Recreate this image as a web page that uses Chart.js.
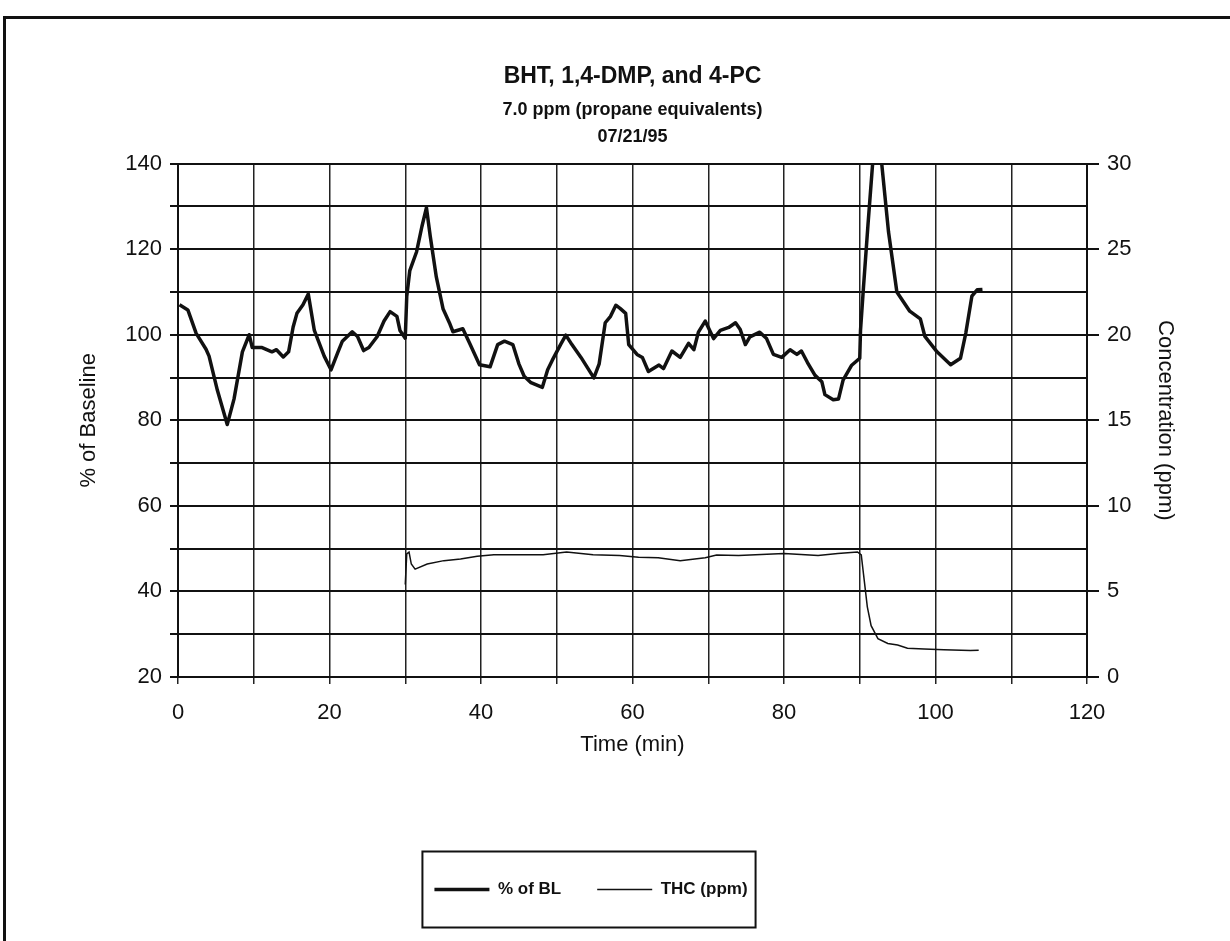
<!DOCTYPE html>
<html>
<head>
<meta charset="utf-8">
<script src="https://cdn.jsdelivr.net/npm/chart.js@4.4.0/dist/chart.umd.min.js"></script>
<style>
  body { margin: 0; background: #fff; }
  #wrap { position: relative; width: 1230px; height: 941px; overflow: hidden; }
  #frame { position: absolute; left: 3px; top: 16px; width: 1240px; height: 940px;
           border-left: 3px solid #111; border-top: 3px solid #111; }
  canvas { position: absolute; left: 0; top: 0; }
</style>
</head>
<body>
<div id="wrap">
  <div id="frame"></div>
  <canvas id="chart" width="1230" height="941"></canvas>
</div>
<script>
// % of baseline (left axis)
const blTime = [0.2, 1.3, 2.4, 3.7, 4.1, 5.2, 6.5, 7.4, 8.5, 9.4, 9.8, 11.1, 12.4, 13, 13.9, 14.6,
  15.2, 15.7, 16.5, 17.2, 18, 19.3, 20.2, 21.1, 21.7, 23, 23.7, 24.5, 25.2, 26.3, 27.2, 28, 28.9,
  29.3, 30, 30.2, 30.6, 31.5, 32.2, 32.8, 33.3, 34.1, 35, 35.9, 36.3, 37.6, 38.5, 39.8, 41.2, 42.2,
  43.1, 44.2, 45, 45.7, 46.6, 48.1, 48.8, 49.4, 50.5, 51.2, 52, 53.2, 54.9, 55.6, 56.4, 57.1, 57.8,
  58.4, 59.1, 59.5, 60.6, 61.3, 62.1, 63.5, 64.1, 65.2, 66.3, 67.4, 68.1, 68.7, 69.6, 70.7, 71.6,
  72.7, 73.6, 74.2, 74.9, 75.5, 76.8, 77.7, 78.6, 79.7, 80.8, 81.7, 82.3, 83.1, 84.1, 85, 85.4,
  86.5, 87.2, 87.8, 88.9, 90, 90.1, 90.5, 91.1, 91.7, 92.3, 92.9, 93.8, 94.9, 96.6, 98, 98.6,
  100.2, 102, 103.3, 104, 104.8, 105.5, 106.2];
const blValue = [107, 105.8, 100.3, 96.6, 95, 87, 79, 85, 96, 100, 97, 97, 96, 96.5, 94.8, 96,
  101.8, 105, 107, 109.5, 101, 95, 91.8, 95.9, 98.5, 100.7, 99.6, 96.3, 97, 99.6, 103.2, 105.4, 104.3,
  101, 99.2, 109, 115, 119.4, 125.3, 129.7, 123, 113.5, 106, 102.5, 100.7, 101.4, 98, 93, 92.5, 97.7,
  98.5, 97.7, 93.2, 90.3, 88.8, 87.7, 91.8, 94, 97.7, 99.9, 97.7, 94.7, 89.9, 93.2, 102.8, 104.3, 106.9,
  106.1, 105, 97.7, 95.4, 94.7, 91.4, 92.9, 92.1, 96.2, 94.7, 98, 96.5, 100.6, 103.2, 99.1, 101,
  101.7, 102.8, 101.3, 97.7, 99.5, 100.6, 99.1, 95.4, 94.7, 96.5, 95.4, 96.2, 93.5, 90.5, 89, 86,
  84.8, 85, 89.4, 92.8, 94.5, 101, 111.3, 126, 140, 146, 140, 124, 110, 105.5, 103.7, 99.6,
  96, 93, 94.5, 100.4, 109, 110.5, 110.6];

// THC in ppm (right axis)
const thcTime = [30.0, 30.2, 30.5, 30.8, 31.3, 32.9, 35.1, 37.3, 39.5, 41.7, 43.9, 48.2, 51.3, 54.8,
  58.3, 60.8, 63.4, 66.3, 69.6, 71.1, 74, 80, 84.5, 87.1, 89.7, 90.2, 90.5, 91, 91.5, 92.4, 93.7,
  95, 96.3, 98.5, 101.1, 104.6, 105.7];
const thcValue = [5.4, 7.2, 7.3, 6.6, 6.3, 6.6, 6.8, 6.9, 7.05, 7.15, 7.15, 7.15, 7.3, 7.15,
  7.1, 7.0, 6.97, 6.8, 6.97, 7.13, 7.1, 7.22, 7.1, 7.22, 7.31, 7.13, 6.0, 4.1, 3.0, 2.24, 1.96,
  1.87, 1.68, 1.64, 1.59, 1.55, 1.56];

const ink = '#111';
Chart.defaults.font.family = '"Liberation Sans", Arial, sans-serif';
Chart.defaults.color = ink;

// box around the legend, like the Excel one
const legendBorder = {
  id: 'legendBorder',
  afterDraw(chart) {
    const hb = chart.legend && chart.legend.legendHitBoxes;
    if (!hb || !hb.length) return;
    const left = Math.min(...hb.map(b => b.left)) - 12;
    const right = Math.max(...hb.map(b => b.left + b.width)) + 8;
    const mid = hb[0].top + hb[0].height / 2;
    const ctx = chart.ctx;
    ctx.save();
    ctx.strokeStyle = ink;
    ctx.lineWidth = 2;
    ctx.strokeRect(left, mid - 38, right - left, 76);
    ctx.restore();
  }
};

function points(xs, ys) {
  return xs.map((t, i) => ({ x: t, y: ys[i] }));
}

new Chart(document.getElementById('chart'), {
  type: 'line',
  data: {
    datasets: [{
      label: '% of BL',
      data: points(blTime, blValue),
      yAxisID: 'y',
      borderColor: ink,
      backgroundColor: ink,
      borderWidth: 3.5,
      pointRadius: 0,
      borderJoinStyle: 'round'
    }, {
      label: 'THC (ppm)',
      data: points(thcTime, thcValue),
      yAxisID: 'y2',
      borderColor: ink,
      backgroundColor: ink,
      borderWidth: 1.5,
      pointRadius: 0
    }]
  },
  options: {
    responsive: false,
    animation: false,
    devicePixelRatio: 1,
    layout: { padding: { top: 28, left: 0, right: 48, bottom: 33 } },
    plugins: {
      tooltip: { enabled: false },
      title: {
        display: true,
        fullSize: false,
        text: 'BHT, 1,4-DMP, and 4-PC',
        color: ink,
        font: { size: 23, weight: 'bold' },
        padding: { top: 35, bottom: 4 }
      },
      subtitle: {
        display: true,
        fullSize: false,
        text: ['7.0 ppm (propane equivalents)', '07/21/95'],
        color: ink,
        font: { size: 18, weight: 'bold', lineHeight: 1.5 },
        padding: { top: 2, bottom: 13 }
      },
      legend: {
        position: 'bottom',
        labels: {
          color: ink,
          font: { size: 17, weight: 'bold' },
          usePointStyle: true,
          pointStyle: 'line',
          pointStyleWidth: 55,
          padding: 36
        }
      }
    },
    scales: {
      x: {
        type: 'linear',
        min: 0, max: 120,
        ticks: { stepSize: 10, autoSkip: false, maxRotation: 0, padding: 16,
                 font: { size: 22 }, callback: v => (v % 20 === 0 ? v : '') },
        grid: { color: '#222', lineWidth: 1.5, tickLength: 7 },
        border: { color: ink, width: 2 },
        title: { display: true, text: 'Time (min)', font: { size: 22 }, padding: { top: 0, bottom: 87 } },
        afterFit: s => { s.height = 168; }
      },
      y: {
        position: 'left',
        min: 20, max: 140,
        ticks: { stepSize: 10, autoSkip: false, padding: 8,
                 font: { size: 22 }, callback: v => (v % 20 === 0 ? v : '') },
        grid: { color: ink, lineWidth: 2, tickLength: 8 },
        border: { color: ink, width: 2 },
        title: { display: true, text: '% of Baseline', font: { size: 22 }, padding: { top: 76, bottom: 0 } },
        afterFit: s => { s.width = 178; }
      },
      y2: {
        position: 'right',
        min: 0, max: 30,
        ticks: { stepSize: 5, padding: 8, font: { size: 22 } },
        grid: { drawOnChartArea: false, color: ink, lineWidth: 2, tickLength: 12 },
        border: { color: ink, width: 2 },
        title: { display: true, text: 'Concentration (ppm)', font: { size: 22 }, padding: { top: 4, bottom: 0 } },
        afterFit: s => { s.width = 95; }
      }
    }
  },
  plugins: [legendBorder]
});
</script>
</body>
</html>
